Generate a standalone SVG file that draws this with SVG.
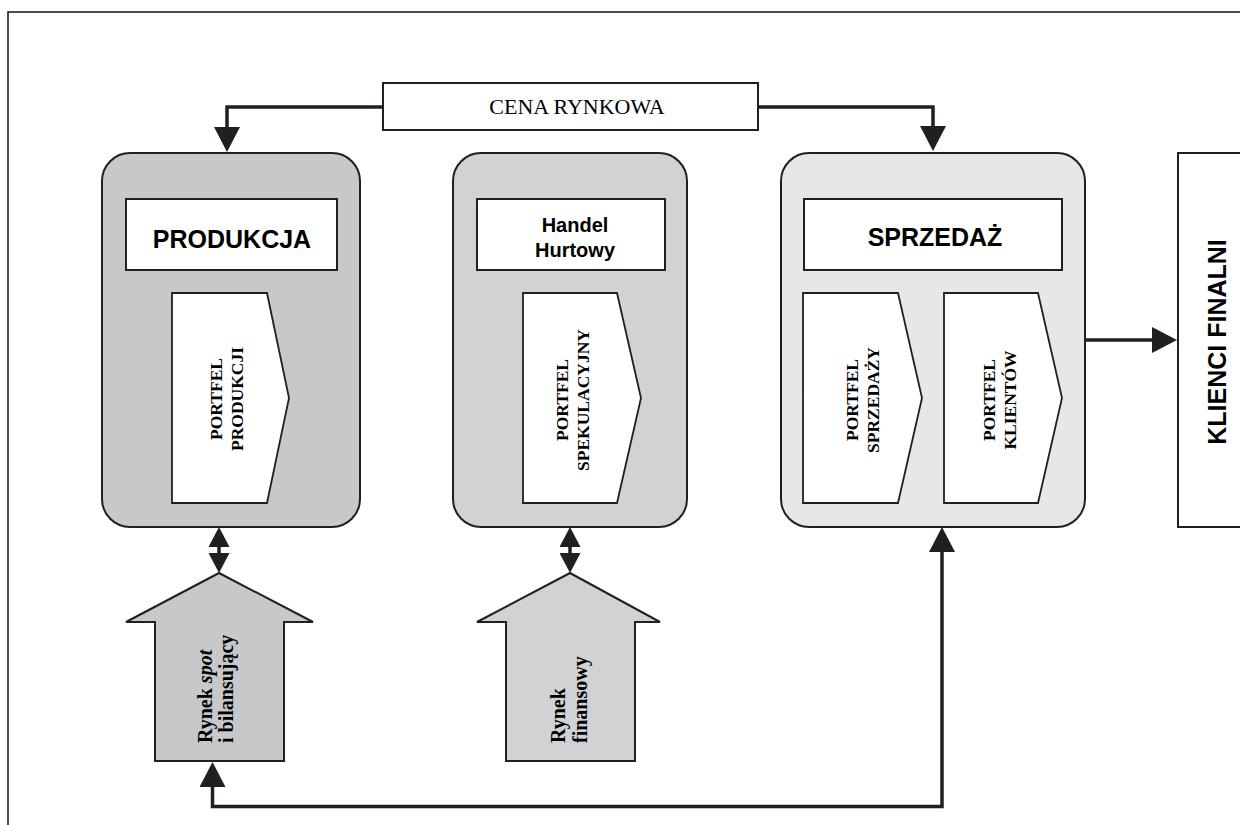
<svg xmlns="http://www.w3.org/2000/svg" width="1240" height="825" viewBox="0 0 1240 825">
<style>
.frame{fill:none;stroke:#231f20;stroke-width:1.6}
.box{stroke:#231f20;stroke-width:2}
.white{fill:#fff;stroke:#231f20;stroke-width:2}
.pent{fill:#fff;stroke:#231f20;stroke-width:1.8}
.g1{fill:#c7c8ca}
.g2{fill:#d1d2d4}
.g3{fill:#e6e7e8}
.conn{fill:none;stroke:#231f20;stroke-width:3.5}
.sans{font-family:"Liberation Sans",Arial,sans-serif;font-weight:bold;fill:#000}
.serif{font-family:"Liberation Serif","Times New Roman",serif;fill:#000}
.pt{font-family:"Liberation Serif","Times New Roman",serif;font-weight:bold;font-size:17.5px;fill:#000;text-anchor:middle}
.rt{font-family:"Liberation Serif","Times New Roman",serif;font-weight:bold;font-size:20px;fill:#000;text-anchor:start}
</style>
<defs>
<marker id="ah" viewBox="0 0 25 26" refX="0" refY="13" markerWidth="25" markerHeight="26" markerUnits="userSpaceOnUse" orient="auto-start-reverse">
<path d="M0,0 L25,13 L0,26 z" fill="#231f20"/>
</marker>
<marker id="ah2" viewBox="0 0 20 21" refX="0" refY="10.5" markerWidth="20" markerHeight="21" markerUnits="userSpaceOnUse" orient="auto-start-reverse">
<path d="M0,0 L20,10.5 L0,21 z" fill="#231f20"/>
</marker>
</defs>
<rect width="1240" height="825" fill="#fff"/>
<rect class="frame" x="8" y="12" width="1260" height="840"/>

<g id="cena">
<rect class="white" x="383" y="83" width="375" height="47"/>
<text class="serif" x="577" y="114" font-size="22" text-anchor="middle">CENA RYNKOWA</text>
</g>

<g id="produkcja">
<rect class="box g1" x="102" y="153" width="258" height="374" rx="28" ry="28"/>
<rect class="white" x="126" y="199" width="211" height="71"/>
<text class="sans" x="232" y="248" font-size="25" text-anchor="middle">PRODUKCJA</text>
</g>
<g id="portfel-produkcji">
<polygon class="pent" points="172,293 267,293 289,398 267,503 172,503"/>
<g transform="translate(222,399) rotate(-90)">
<text class="pt" x="0" y="0">PORTFEL</text>
<text class="pt" x="0" y="21">PRODUKCJI</text>
</g>
</g>

<g id="handel">
<rect class="box g2" x="453" y="153" width="234" height="374" rx="28" ry="28"/>
<rect class="white" x="477" y="199" width="188" height="71"/>
<text class="sans" x="575" y="232" font-size="20" text-anchor="middle">Handel</text>
<text class="sans" x="575" y="257" font-size="20" text-anchor="middle">Hurtowy</text>
</g>
<g id="portfel-spekulacyjny">
<polygon class="pent" points="523,293 617,293 641,398 617,503 523,503"/>
<g transform="translate(568,400) rotate(-90)">
<text class="pt" x="0" y="0">PORTFEL</text>
<text class="pt" x="0" y="21">SPEKULACYJNY</text>
</g>
</g>

<g id="sprzedaz">
<rect class="box g3" x="781" y="153" width="304" height="374" rx="28" ry="28"/>
<rect class="white" x="804" y="199" width="258" height="71"/>
<text class="sans" x="935" y="246" font-size="25" text-anchor="middle">SPRZEDAŻ</text>
</g>
<g id="portfel-sprzedazy">
<polygon class="pent" points="803,293 898,293 922,398 898,503 803,503"/>
<g transform="translate(858,400) rotate(-90)">
<text class="pt" x="0" y="0">PORTFEL</text>
<text class="pt" x="0" y="21">SPRZEDAŻY</text>
</g>
</g>
<g id="portfel-klientow">
<polygon class="pent" points="944,293 1038,293 1062,398 1038,503 944,503"/>
<g transform="translate(995,400) rotate(-90)">
<text class="pt" x="0" y="0">PORTFEL</text>
<text class="pt" x="0" y="21">KLIENTÓW</text>
</g>
</g>

<g id="klienci">
<rect class="white" x="1178" y="153" width="80" height="374" stroke-width="1.6"/>
<text class="sans" transform="translate(1226,342) rotate(-90)" x="0" y="0" font-size="25" text-anchor="middle">KLIENCI FINALNI</text>
</g>

<g id="rynek-spot">
<polygon class="box g1" points="219,573 313,622 284,622 284,761 155,761 155,622 126,622"/>
<g transform="translate(212,743) rotate(-90)">
<text class="rt" x="0" y="0">Rynek <tspan font-style="italic">spot</tspan></text>
<text class="rt" x="0" y="21">i bilansujący</text>
</g>
</g>

<g id="rynek-finansowy">
<polygon class="box g2" points="570,573 660,622 635,622 635,761 506,761 506,622 477,622"/>
<g transform="translate(565,743) rotate(-90)">
<text class="rt" x="0" y="0">Rynek</text>
<text class="rt" x="0" y="22">finansowy</text>
</g>
</g>

<g id="connectors">
<path class="conn" d="M383,107 H227 V127" marker-end="url(#ah)"/>
<path class="conn" d="M758,107 H933 V126" marker-end="url(#ah)"/>
<path class="conn" d="M1085,340 H1152" marker-end="url(#ah)"/>
<path class="conn" d="M212.5,787 V806.5 H942 V552" marker-start="url(#ah)" marker-end="url(#ah)"/>
<path class="conn" d="M219,547 V553" marker-start="url(#ah2)" marker-end="url(#ah2)"/>
<path class="conn" d="M570,547 V553" marker-start="url(#ah2)" marker-end="url(#ah2)"/>
</g>
</svg>
